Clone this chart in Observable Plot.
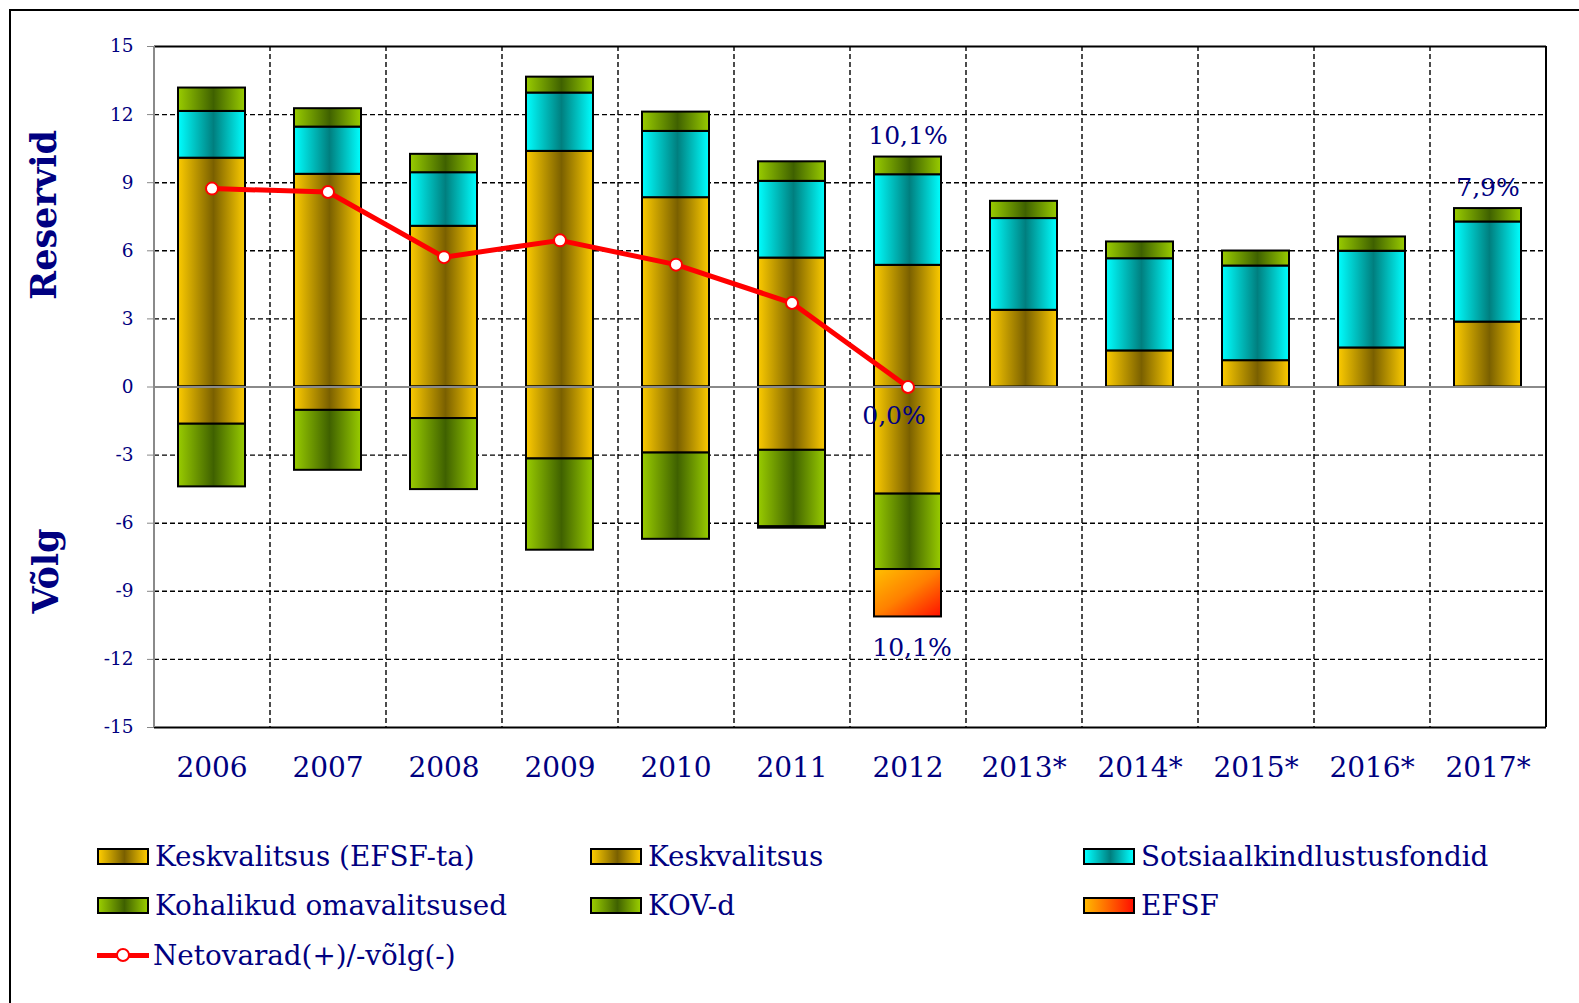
<!DOCTYPE html>
<html><head><meta charset="utf-8">
<script src="https://cdn.jsdelivr.net/npm/d3@7"></script>
<script src="https://cdn.jsdelivr.net/npm/@observablehq/plot@0.6"></script>
<style>
body{margin:0;background:#fff;}
#wrap{position:relative;width:1579px;height:1003px;overflow:hidden;font-family:"DejaVu Serif",serif;color:#000080;}
#frame{position:absolute;left:9px;top:9px;width:1600px;height:1100px;border-left:2px solid #000;border-top:2px solid #000;}
#chart{position:absolute;left:0;top:0;}
.ytitle{position:absolute;font-weight:bold;font-size:35px;transform:translate(-50%,-50%) rotate(-90deg);white-space:nowrap;}
.leg{position:absolute;height:40px;display:flex;align-items:center;font-size:27.8px;white-space:nowrap;}
.sw{width:48px;height:13px;border:2px solid #000;margin-right:6px;flex:none;}
.lsw{position:relative;width:52px;height:16px;margin-right:4px;flex:none;}
.lsw .ln{position:absolute;left:0;right:0;top:6px;height:5px;background:#f00;}
.lsw .pt{position:absolute;left:19px;top:1px;width:10px;height:10px;border:2px solid #f00;border-radius:50%;background:#fff;}
g[aria-label="y-axis tick"]{stroke:#888 !important;}
.tick line{stroke:#888;}
</style></head><body>
<div id="wrap">
<div id="frame"></div>
<div id="chart"></div>
<div class="ytitle" style="left:43px;top:215px;">Reservid</div>
<div class="ytitle" style="left:45px;top:571px;">Võlg</div>
<div id="legend"></div>
</div>
<script>
// ---- data ----
const years = ["2006","2007","2008","2009","2010","2011","2012","2013*","2014*","2015*","2016*","2017*"];
const keskvalitsus = [10.08, 9.37, 7.08, 10.38, 8.34, 5.68, 5.36, 3.38, 1.59, 1.16, 1.72, 2.86];
const sotsiaalkindlustusfondid = [2.06, 2.08, 2.36, 2.57, 2.92, 3.38, 3.99, 4.04, 4.06, 4.17, 4.26, 4.41];
const kovD = [1.03, 0.81, 0.81, 0.70, 0.85, 0.86, 0.78, 0.76, 0.74, 0.66, 0.63, 0.59];
const keskvalitsusEfsfTa = [-1.64, -1.03, -1.39, -3.17, -2.91, -2.79, -4.72, 0, 0, 0, 0, 0];
const kohalikudOmavalitsused = [-2.76, -2.64, -3.13, -4.02, -3.80, -3.37, -3.32, 0, 0, 0, 0, 0];
const efsf = [0, 0, 0, 0, 0, -0.06, -2.09, 0, 0, 0, 0, 0];
const netovarad = [8.74, 8.59, 5.72, 6.46, 5.39, 3.70, 0.0, null, null, null, null, null];
const yTicks = [-15, -12, -9, -6, -3, 0, 3, 6, 9, 12, 15];
const labelYears = ["2012", "2012", "2012", "2017*"];
const labelTexts = ["10,1%", "0,0%", "10,1%", "7,9%"];
const labelKinds = ["top", "net", "bottom", "top"];

const seriesNames = ["Keskvalitsus", "Sotsiaalkindlustusfondid", "KOV-d", "Keskvalitsus (EFSF-ta)", "Kohalikud omavalitsused", "EFSF"];
const seriesValues = [keskvalitsus, sotsiaalkindlustusfondid, kovD, keskvalitsusEfsfTa, kohalikudOmavalitsused, efsf];
const seriesFill = ["url(#gKesk)", "url(#gSots)", "url(#gKov)", "url(#gKesk)", "url(#gKov)", "url(#gEfsf)"];

const rows = [];
seriesNames.forEach((s, k) => years.forEach((y, i) => {
  const v = seriesValues[k][i];
  if (v) rows.push({year: y, series: s, value: v, fill: seriesFill[k]});
}));
const netRows = years.map((y, i) => ({year: y, value: netovarad[i]})).filter(d => d.value != null);
const posTotal = years.map((y, i) => keskvalitsus[i] + sotsiaalkindlustusfondid[i] + kovD[i]);
const negTotal = years.map((y, i) => keskvalitsusEfsfTa[i] + kohalikudOmavalitsused[i] + efsf[i]);
const labels = labelYears.map((y, j) => {
  const i = years.indexOf(y);
  const kind = labelKinds[j];
  const v = kind === "top" ? posTotal[i] : kind === "bottom" ? negTotal[i] : netovarad[i];
  return {year: y, value: v, text: labelTexts[j], kind};
});

const navy = "#000080";
const dash = {stroke: "#000", strokeWidth: 1.4, strokeDasharray: "5,3"};
const half = 58;

const svg = Plot.plot({
  width: 1579, height: 800,
  marginLeft: 154, marginRight: 33, marginTop: 46, marginBottom: 73,
  style: {fontFamily: "DejaVu Serif", fontSize: "18.5px", color: navy, background: "transparent", overflow: "visible"},
  x: {type: "band", domain: years, paddingInner: 0.42, paddingOuter: 0.21, axis: null},
  y: {domain: [-15, 15], ticks: yTicks, tickSize: 7, tickPadding: 14, tickFormat: d => String(d), label: null},
  color: {type: "identity"},
  marks: [
    Plot.ruleY(yTicks.filter(d => d > -15 && d < 15 && d !== 0), dash),
    Plot.ruleX(years.slice(1), {...dash, dx: -half}),
    Plot.barY(rows, {x: "year", y: "value", fill: "fill", stroke: "#000", strokeWidth: 2}),
    Plot.ruleY([0], {stroke: "#8a8a8a", strokeWidth: 2}),
    Plot.ruleY([15, -15], {stroke: "#000", strokeWidth: 2}),
    Plot.ruleX([years[years.length - 1]], {dx: half, stroke: "#000", strokeWidth: 2}),
    Plot.ruleX([years[0]], {dx: -half, stroke: "#8a8a8a", strokeWidth: 2}),
    Plot.line(netRows, {x: "year", y: "value", stroke: "#ff0000", strokeWidth: 5}),
    Plot.dot(netRows, {x: "year", y: "value", r: 6, fill: "#fff", stroke: "#ff0000", strokeWidth: 2}),
    Plot.text(labels.filter(d => d.kind === "top"), {x: "year", y: "value", text: "text", dy: -21, fontSize: 25, fill: navy}),
    Plot.text(labels.filter(d => d.kind === "bottom"), {x: "year", y: "value", text: "text", dy: 31, dx: 4, fontSize: 25, fill: navy}),
    Plot.text(labels.filter(d => d.kind === "net"), {x: "year", y: "value", text: "text", dy: 29, dx: -14, fontSize: 25, fill: navy}),
    Plot.text(years, {x: d => d, frameAnchor: "bottom", dy: 49, fontSize: 28, fill: navy})
  ]
});

const defs = d3.select(svg).insert("defs", ":first-child");
function hgrad(id, edge, mid) {
  const g = defs.append("linearGradient").attr("id", id).attr("x1", 0).attr("x2", 1).attr("y1", 0).attr("y2", 0);
  [[0, edge], [0.53, mid], [1, edge]].forEach(([o, c]) => g.append("stop").attr("offset", o).attr("stop-color", c));
}
hgrad("gKesk", "#fccb00", "#7a6000");
hgrad("gSots", "#00ffff", "#007f7f");
hgrad("gKov", "#99cc00", "#3f6100");
const ge = defs.append("linearGradient").attr("id", "gEfsf").attr("x1", 0).attr("y1", 0).attr("x2", 1).attr("y2", 1);
[[0, "#ffc000"], [0.5, "#ff8000"], [1, "#ff1000"]].forEach(([o, c]) => ge.append("stop").attr("offset", o).attr("stop-color", c));

document.getElementById("chart").appendChild(svg);

// ---- legend ----
const css = {
  kesk: "linear-gradient(to right,#fccb00,#7a6000 53%,#fccb00)",
  sots: "linear-gradient(to right,#00ffff,#007f7f 53%,#00ffff)",
  kov: "linear-gradient(to right,#99cc00,#3f6100 53%,#99cc00)",
  efsf: "linear-gradient(to right,#ffb800,#ff1000)"
};
const legendItems = [
  {name: "Keskvalitsus (EFSF-ta)", sw: css.kesk, x: 97, y: 856},
  {name: "Keskvalitsus", sw: css.kesk, x: 590, y: 856},
  {name: "Sotsiaalkindlustusfondid", sw: css.sots, x: 1083, y: 856},
  {name: "Kohalikud omavalitsused", sw: css.kov, x: 97, y: 905},
  {name: "KOV-d", sw: css.kov, x: 590, y: 905},
  {name: "EFSF", sw: css.efsf, x: 1083, y: 905},
  {name: "Netovarad(+)/-võlg(-)", sw: null, x: 97, y: 955}
];
const leg = document.getElementById("legend");
legendItems.forEach(it => {
  const d = document.createElement("div");
  d.className = "leg";
  d.style.left = it.x + "px";
  d.style.top = (it.y - 20) + "px";
  const s = document.createElement("div");
  if (it.sw) { s.className = "sw"; s.style.background = it.sw; }
  else { s.className = "lsw"; s.innerHTML = '<div class="ln"></div><div class="pt"></div>'; }
  d.appendChild(s);
  const t = document.createElement("span");
  t.textContent = it.name;
  d.appendChild(t);
  leg.appendChild(d);
});
</script>
</body></html>
